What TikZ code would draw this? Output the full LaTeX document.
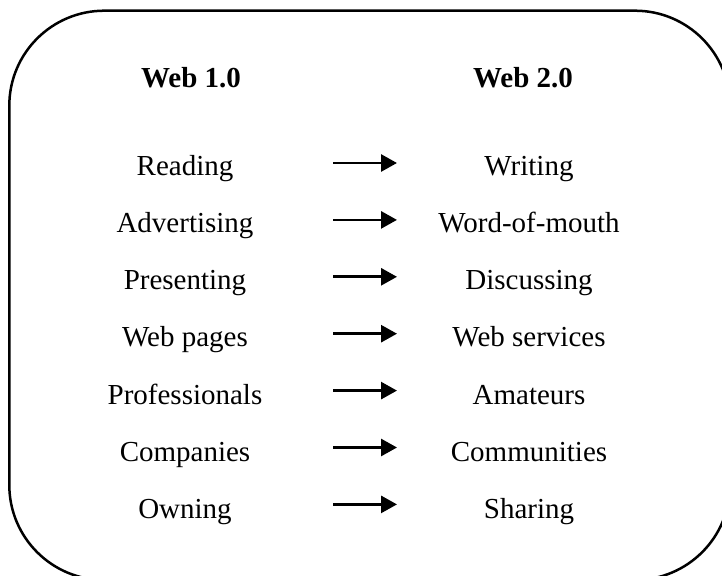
\documentclass[tikz,border=0pt]{standalone}
\usepackage{fontspec}
\setmainfont{Liberation Serif}
\usetikzlibrary{arrows.meta}
\begin{document}
\begin{tikzpicture}[x=1pt,y=-1pt,
  item/.style={anchor=base,inner sep=0pt,font=\fontsize{29pt}{35pt}\selectfont},
  head/.style={item,font=\fontsize{29pt}{35pt}\selectfont\bfseries},
  changearrow/.style={line width=2.8pt,-{Triangle[length=16pt,width=17pt]}},
  frame/.style={line width=2.5pt,rounded corners=95pt}]
\useasboundingbox (0,0) rectangle (722,575);
% outer frame, running past the right and bottom edges
\begin{scope}
  \clip (0,0) rectangle (722,575);
  \draw[frame] (9.3,10.7) rectangle (730,580);
\end{scope}
% column headings
\node[head] (h1) at (191,88) {Web 1.0};
\node[head] (h2) at (523,88) {Web 2.0};
% rows: old term, new term
\foreach \i/\a/\b in {0/Reading/Writing,
                      1/Advertising/Word-of-mouth,
                      2/Presenting/Discussing,
                      3/Web pages/Web services,
                      4/Professionals/Amateurs,
                      5/Companies/Communities,
                      6/Owning/Sharing}{
  \pgfmathsetmacro{\yb}{175+57.3*\i}
  \pgfmathsetmacro{\ya}{163+56.9*\i}
  \node[item] (old\i) at (185,\yb) {\a};
  \node[item] (new\i) at (529,\yb) {\b};
  \coordinate (from\i) at (333,\ya);
  \coordinate (to\i) at (397,\ya);
  \draw[changearrow] (from\i) -- (to\i);
}
\end{tikzpicture}
\end{document}
